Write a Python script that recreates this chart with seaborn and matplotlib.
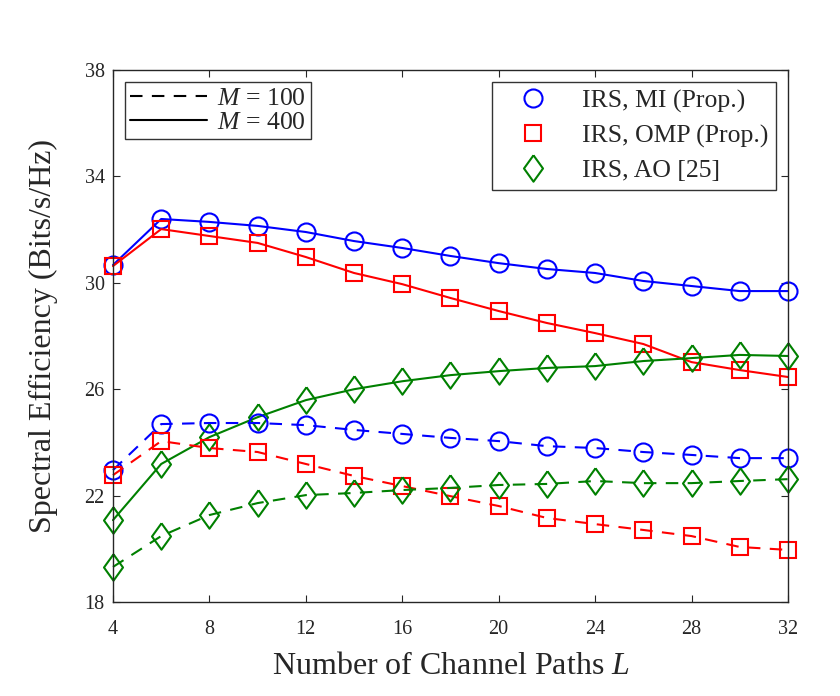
import pandas as pd
import seaborn as sns
import matplotlib.pyplot as plt
from matplotlib.lines import Line2D

# Data
paths = [4, 6, 8, 10, 12, 14, 16, 18, 20, 22, 24, 26, 28, 30, 32]

mi_400 = [30.67, 32.40, 32.29, 32.14, 31.91, 31.57, 31.31, 31.01, 30.74, 30.52, 30.37, 30.07, 29.88, 29.69, 29.69]
omp_400 = [30.63, 32.02, 31.76, 31.50, 30.97, 30.37, 29.95, 29.43, 28.94, 28.49, 28.11, 27.70, 27.02, 26.72, 26.46]
ao_400 = [21.08, 23.19, 24.20, 24.95, 25.59, 26.00, 26.30, 26.53, 26.68, 26.80, 26.87, 27.06, 27.17, 27.29, 27.25]

mi_100 = [22.96, 24.69, 24.73, 24.73, 24.65, 24.47, 24.32, 24.17, 24.05, 23.86, 23.79, 23.64, 23.53, 23.41, 23.41]
omp_100 = [22.77, 24.05, 23.79, 23.64, 23.19, 22.74, 22.36, 21.98, 21.61, 21.16, 20.93, 20.71, 20.48, 20.07, 19.96]
ao_100 = [19.32, 20.48, 21.27, 21.72, 22.02, 22.10, 22.21, 22.29, 22.40, 22.44, 22.55, 22.47, 22.47, 22.55, 22.62]

methods = ["IRS, MI (Prop.)", "IRS, OMP (Prop.)", "IRS, AO [25]"]
colors = {"IRS, MI (Prop.)": "#0000ff", "IRS, OMP (Prop.)": "#ff0000", "IRS, AO [25]": "#008000"}
# MATLAB-like diamond: a little taller than wide
diamond = [(0, 1), (0.72, 0), (0, -1), (-0.72, 0), (0, 1)]
markers = {"IRS, MI (Prop.)": "o", "IRS, OMP (Prop.)": "s", "IRS, AO [25]": diamond}
msizes = {"IRS, MI (Prop.)": 13, "IRS, OMP (Prop.)": 11, "IRS, AO [25]": 19}
dash = (0, (6, 4.5))

series = {
    ("IRS, MI (Prop.)", 400): mi_400,
    ("IRS, OMP (Prop.)", 400): omp_400,
    ("IRS, AO [25]", 400): ao_400,
    ("IRS, MI (Prop.)", 100): mi_100,
    ("IRS, OMP (Prop.)", 100): omp_100,
    ("IRS, AO [25]", 100): ao_100,
}

sns.set_style("ticks")
plt.rcParams["font.family"] = ["Liberation Serif", "DejaVu Serif"]
plt.rcParams["mathtext.fontset"] = "custom"
plt.rcParams["mathtext.rm"] = "Liberation Serif"
plt.rcParams["mathtext.it"] = "Liberation Serif:italic"

fig = plt.figure(figsize=(8.4, 6.96), dpi=100)
ax = fig.add_axes([0.1345, 0.135, 0.8035, 0.7644])

for (method, m), values in series.items():
    df = pd.DataFrame({"L": paths, "SE": values})
    sns.lineplot(
        data=df, x="L", y="SE", ax=ax,
        color=colors[method],
        marker=markers[method],
        markersize=msizes[method],
        markerfacecolor="none",
        markeredgecolor=colors[method],
        markeredgewidth=1.5,
        linewidth=1.5,
        legend=False,
    )
    line = ax.lines[-1]
    line.set_linestyle(dash if m == 100 else "-")
    line.set_clip_on(False)

ax.set_xlim(4, 32)
ax.set_ylim(18, 38)
ax.set_xticks(range(4, 33, 4))
ax.set_yticks(range(18, 39, 4))
ax.tick_params(direction="in", top=True, right=True, labelsize=14.5, length=5, width=0.8)
ax.tick_params(axis="x", pad=13)
ax.tick_params(axis="y", pad=6)
for sp in ax.spines.values():
    sp.set_visible(True)
    sp.set_linewidth(1.0)
ax.set_xlabel("Number of Channel Paths $L$", fontsize=23, labelpad=9)
ax.set_ylabel("Spectral Efficiency (Bits/s/Hz)", fontsize=23, labelpad=19)

# Legend for line styles
style_handles = [
    Line2D([], [], color="black", linestyle=dash, linewidth=1.5),
    Line2D([], [], color="black", linestyle="-", linewidth=1.5),
]
leg1 = ax.legend(style_handles, ["$M$ = 100", "$M$ = 400"], loc="upper left",
                 fontsize=18.5, frameon=True, fancybox=False, edgecolor="black",
                 handlelength=3.0, borderpad=0.2, labelspacing=0.05,
                 borderaxespad=0.45, handletextpad=0.4)
leg1.get_frame().set_linewidth(1.0)
ax.add_artist(leg1)

# Legend for methods
method_handles = [
    Line2D([], [], color=colors[k], linestyle="none", marker=markers[k],
           markersize=msizes[k], markerfacecolor="none", markeredgewidth=1.5)
    for k in methods
]
leg2 = ax.legend(method_handles, methods, loc="upper right", fontsize=18.5,
                 frameon=True, fancybox=False, edgecolor="black",
                 handlelength=2.6, borderpad=0.3, labelspacing=0.45,
                 borderaxespad=0.45, handletextpad=0.6)
leg2.get_frame().set_linewidth(1.0)

plt.savefig("out.png", dpi=100)
